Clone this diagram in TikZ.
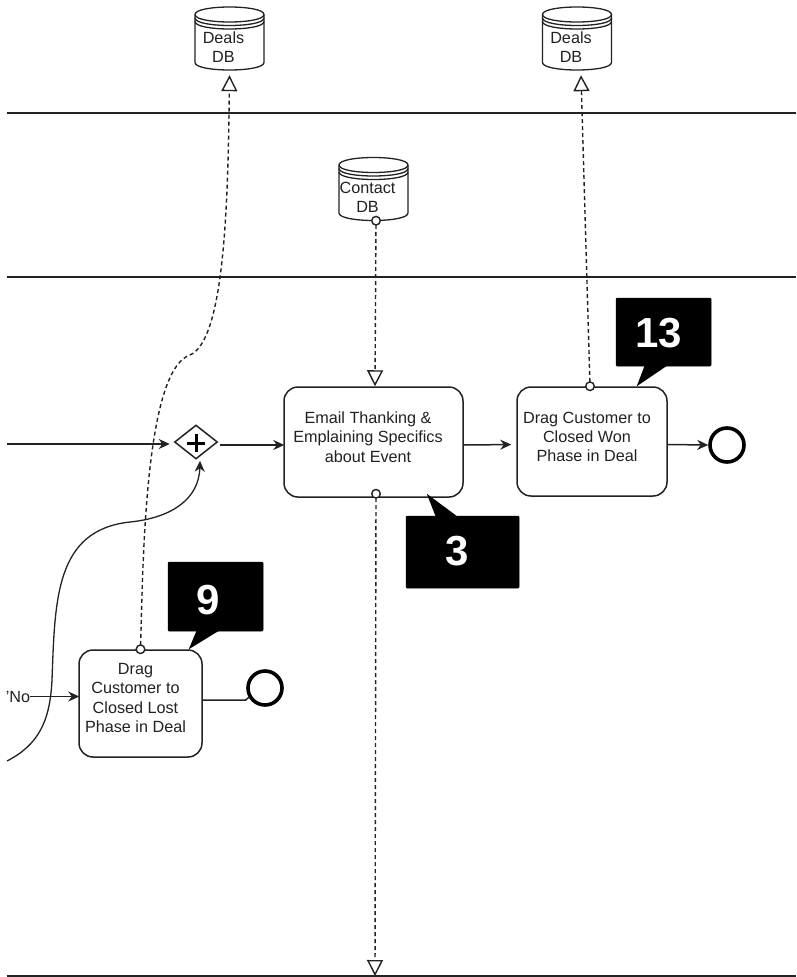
\documentclass[tikz,border=0pt]{standalone}
\usepackage{fontspec}
\setmainfont{Liberation Sans}
\usetikzlibrary{arrows.meta,shapes.geometric,calc}
\definecolor{ink}{HTML}{222222}
\tikzset{
  every node/.style={text=ink,font=\fontsize{16.2}{19.3}\selectfont,align=center,inner sep=0pt},
  task/.style={draw=ink,line width=1.5pt,rounded corners=14pt,fill=white},
  tasktext/.style={},
  lane/.style={draw=ink,line width=1.2pt},
  flow/.style={draw=ink,line width=1.5pt,-{Stealth[length=11pt,width=10pt]}},
  plainflow/.style={draw=ink,line width=1.5pt},
  assoc/.style={draw=ink,line width=1.4pt,dash pattern=on 4pt off 3pt,
     {Circle[open,length=10pt,width=10pt,fill=white]}-{Triangle[open,length=16pt,width=16pt,fill=white]},shorten <=-5pt},
  endev/.style={circle,draw=black,line width=3.6pt,minimum size=34pt,fill=white},
  gate/.style={diamond,draw=ink,line width=1.5pt,minimum width=43pt,minimum height=34pt,shape aspect=1.26,fill=white},
  callout/.style={fill=black,draw=black,line width=.5pt,rounded corners=1pt},
  calloutnum/.style={text=white,font=\fontsize{42}{46}\selectfont\bfseries},
  dbshape/.style={draw=ink,line width=1.3pt,fill=white},
}
\newcommand{\dbdraw}[4]{%
  \node[minimum width=69pt,minimum height=63pt] (#1) at (#2,#3) {};
  \begin{scope}[shift={(#2,#3)}]
    \draw[dbshape] (-34.5,-24) .. controls (-34.5,-34) and (34.5,-34) .. (34.5,-24) -- (34.5,24)
       .. controls (34.5,34) and (-34.5,34) .. (-34.5,24) -- cycle;
    \draw[dbshape,fill=none] (-34.5,-24) .. controls (-34.5,-14) and (34.5,-14) .. (34.5,-24);
    \draw[dbshape,fill=none] (-34.5,-20.5) .. controls (-34.5,-10.5) and (34.5,-10.5) .. (34.5,-20.5);
    \draw[dbshape,fill=none] (-34.5,-17) .. controls (-34.5,-7) and (34.5,-7) .. (34.5,-17);
  \end{scope}
  \node (#1t) at ($(#1)+(-6,8.5)$) {#4};
}
\begin{document}
\begin{tikzpicture}[x=1pt,y=-1pt]
\useasboundingbox[fill=white] (0,0) rectangle (796,977);
% lanes
\coordinate (l1a) at (7,113); \coordinate (l1b) at (796,113);
\coordinate (l2a) at (7,277); \coordinate (l2b) at (796,277);
\coordinate (l3a) at (7,976); \coordinate (l3b) at (796,976);
\draw[lane] (l1a) -- (l1b);
\draw[lane] (l2a) -- (l2b);
\draw[lane] (l3a) -- (l3b);
% data stores
\dbdraw{dealsa}{229.5}{38.5}{Deals\\DB}
\dbdraw{dealsb}{577}{38.5}{Deals\\DB}
\dbdraw{contact}{373.5}{189}{Contact\\DB}
% free ends
\coordinate (inflow) at (7,444);
\coordinate (curvestart) at (7,761);
\coordinate (bottomend) at (375,976);
% tasks
\node[task,minimum width=179pt,minimum height=110pt] (email) at (373.5,442) {};
\node[tasktext] (emailt) at ($(email)+(-5.5,-5)$) {Email Thanking \&\\Emplaining Specifics\\about Event};
\node[task,minimum width=150pt,minimum height=109pt] (won) at (592,441.5) {};
\node[tasktext] (wont) at ($(won)+(-5,-4.5)$) {Drag Customer to\\Closed Won\\Phase in Deal};
\node[task,minimum width=123pt,minimum height=107pt] (lost) at (140.5,703.5) {};
\node[tasktext] (lostt) at ($(lost)+(-5,-5.5)$) {Drag\\Customer to\\Closed Lost\\Phase in Deal};
% gateway and events
\node[gate] (gw) at (196,442) {};
\draw[black,line width=3pt] ($(gw.center)+(-9,1)$) -- ($(gw.center)+(9,1)$);
\draw[black,line width=3pt] ($(gw.center)+(0,-8)$) -- ($(gw.center)+(0,10)$);
\node[endev] (endw) at (727,445) {};
\node[endev] (endl) at (265,688) {};
\node (no) at (18,696.5) {'No};
% sequence flows
\draw[flow,shorten >=4pt] (inflow) -- (gw.west |- inflow);
\draw[flow,shorten <=2pt] ($(gw.east)+(0,3)$) -- ($(email.west)+(1,3)$);
\draw[flow,shorten >=5pt] ($(email.east)+(0,3)$) -- ($(won.west)+(0,3)$);
\draw[flow] ($(won.east)+(0,3)$) -- (endw.west);
\draw[plainflow] ($(lost.east)+(0,-3.5)$) -- ++(43,0) -- (endl.210);
\draw[flow] (no.east) -- ($(lost.west)+(1,-7)$);
\draw[draw=ink,line width=1.3pt,-{Stealth[length=11pt,width=10pt]}] (curvestart)
  .. controls (38,745) and (50,722) .. (52,680)
  .. controls (55,600) and (55,530) .. (130,522)
  .. controls (170,518) and (199,500) .. ($(gw.south)+(4,1)$);
% associations
\draw[assoc] (lost.north)
  .. controls (143,560) and (145,370) .. (190,355)
  .. controls (225,340) and (228,200) .. ($(dealsa.south)+(0,5)$);
\draw[assoc] ($(won.north)+(-2,0)$) -- ($(dealsb.south)+(4,5)$);
\draw[assoc] ($(contact.south)+(2.5,0)$) -- ($(email.north)+(1.5,0)$);
\draw[assoc] ($(email.south)+(2.5,-4)$) -- (bottomend);
% callouts
\node[callout,minimum width=95pt,minimum height=69pt] (cnine) at (215.5,596.5) {};
\fill[black] ($(cnine.south west)+(29,-1)$) -- ($(lost.north east)+(-14,0)$) -- ($(cnine.south west)+(52,-1)$) -- cycle;
\node[calloutnum] (cninet) at ($(cnine)+(-7,4)$) {9};
\node[callout,minimum width=95pt,minimum height=68pt] (cthirteen) at (663.5,332) {};
\fill[black] ($(cthirteen.south west)+(29,-1)$) -- ($(won.north east)+(-31,0)$) -- ($(cthirteen.south west)+(52,-1)$) -- cycle;
\node[calloutnum] (cthirteent) at ($(cthirteen)+(-5,1.5)$) {13};
\node[callout,minimum width=113pt,minimum height=72pt] (cthree) at (462.5,552) {};
\fill[black] ($(cthree.north west)+(30,1)$) -- ($(email.south east)+(-37,-4)$) -- ($(cthree.north west)+(52,1)$) -- cycle;
\node[calloutnum] (cthreet) at ($(cthree)+(-5,-1)$) {3};
\end{tikzpicture}
\end{document}
